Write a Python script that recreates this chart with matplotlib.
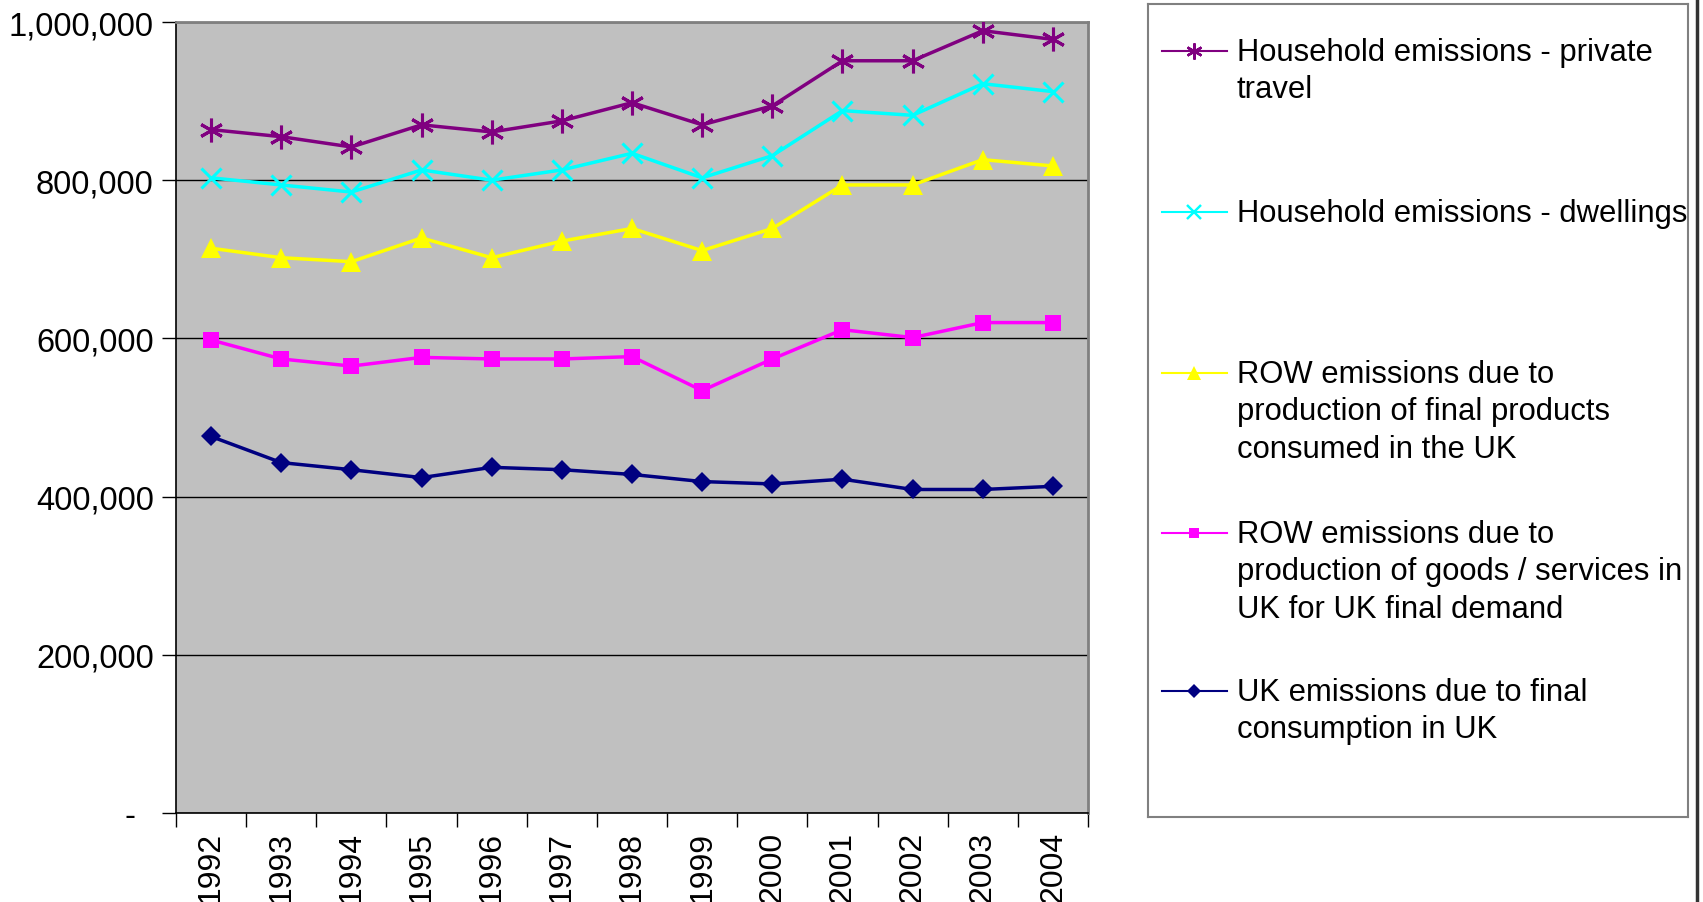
#!/usr/bin/env python3
import matplotlib.pyplot as plt
plt.switch_backend('agg')
from matplotlib.lines import Line2D
from matplotlib.ticker import FuncFormatter

years = ['1992', '1993', '1994', '1995', '1996', '1997', '1998',
         '1999', '2000', '2001', '2002', '2003', '2004']

private_travel = [864000, 855000, 842000, 870000, 861000, 875000, 898000,
                  870000, 894000, 951000, 951000, 989000, 978000]
dwellings = [803000, 794000, 785000, 813000, 800000, 813000, 834000,
             803000, 831000, 888000, 882000, 922000, 912000]
row_final = [714000, 702000, 697000, 727000, 702000, 723000, 739000,
             711000, 739000, 794000, 794000, 826000, 818000]
row_goods = [598000, 574000, 565000, 576000, 574000, 574000, 577000,
             534000, 574000, 611000, 601000, 620000, 620000]
uk_final = [476000, 443000, 434000, 424000, 437000, 434000, 428000,
            419000, 416000, 422000, 409000, 409000, 413000]

labels = ['Household emissions - private\ntravel',
          'Household emissions - dwellings',
          'ROW emissions due to\nproduction of final products\nconsumed in the UK',
          'ROW emissions due to\nproduction of goods / services in\nUK for UK final demand',
          'UK emissions due to final\nconsumption in UK']

plt.rcParams['font.family'] = ['Liberation Sans', 'DejaVu Sans']

W, H = 1703, 903
fig = plt.figure(figsize=(W / 100, H / 100), dpi=100)

# plot area in pixels: x 176..1088, y 23..814
ax = fig.add_axes([176 / W, 1 - 814 / H, (1088 - 176) / W, (814 - 23) / H])
ax.set_facecolor('#C0C0C0')

series = [
    (private_travel, '#800080', (6, 2, 0), 17, 2.2),
    (dwellings, '#00FFFF', 'x', 14, 2.2),
    (row_final, '#FFFF00', '^', 14, 0),
    (row_goods, '#FF00FF', 's', 11, 0),
    (uk_final, '#000080', 'D', 10, 0),
]
x = list(range(len(years)))
for vals, col, mk, ms, mew in series:
    ax.plot(x, vals, color=col, lw=2.5, marker=mk, markersize=ms,
            markeredgewidth=mew, markeredgecolor=col, markerfacecolor=col, zorder=3)

ax.set_ylim(0, 1000000)
ax.set_yticks(range(0, 1000001, 200000))
ax.yaxis.set_major_formatter(FuncFormatter(
    lambda v, p: '-  ' if v == 0 else '{:,.0f}'.format(v)))
ax.grid(axis='y', color='black', lw=1)
ax.set_axisbelow(True)

ax.set_xlim(-0.5, len(years) - 0.5)
ax.set_xticks([i - 0.5 for i in range(len(years) + 1)])
ax.set_xticklabels([])
ax.set_xticks(x, minor=True)
ax.set_xticklabels(years, minor=True, rotation=90, va='top')
ax.tick_params(axis='x', which='minor', length=0, pad=13, labelsize=23)
ax.tick_params(axis='x', which='major', length=10, width=1, direction='out')
ax.tick_params(axis='y', length=10, width=1, direction='out', pad=6, labelsize=23.5)

for s in ['left', 'bottom']:
    ax.spines[s].set_color('black')
    ax.spines[s].set_linewidth(1.2)
for s in ['top', 'right']:
    ax.spines[s].set_color('#808080')
    ax.spines[s].set_linewidth(2)

# legend box: x 1148..1688, y 5..818
lx0, lx1, ly0, ly1 = 1148, 1688, 5, 818
lax = fig.add_axes([lx0 / W, 1 - ly1 / H, (lx1 - lx0) / W, (ly1 - ly0) / H])
lax.set_xlim(lx0, lx1)
lax.set_ylim(ly1, ly0)
lax.set_xticks([])
lax.set_yticks([])
for s in lax.spines.values():
    s.set_color('#808080')
    s.set_linewidth(1.5)

row_y = [52, 213, 374, 534, 692]
for (vals, col, mk, ms, mew), lab, ry in zip(series, labels, row_y):
    lax.add_line(Line2D([1162, 1227], [ry, ry], color=col, lw=1.5))
    lax.plot([1194], [ry], marker=mk, color=col, markersize=ms * 0.68,
             markeredgewidth=mew * 0.8, markeredgecolor=col)
    lax.text(1237, ry - 14, lab, fontsize=22.3, va='top', ha='left',
             linespacing=1.32)

# right-hand edge line
fig.add_artist(Line2D([1697 / W, 1697 / W], [0, 1], color='#333333', lw=2.5,
                      transform=fig.transFigure))

fig.savefig('out.png', dpi=100)
